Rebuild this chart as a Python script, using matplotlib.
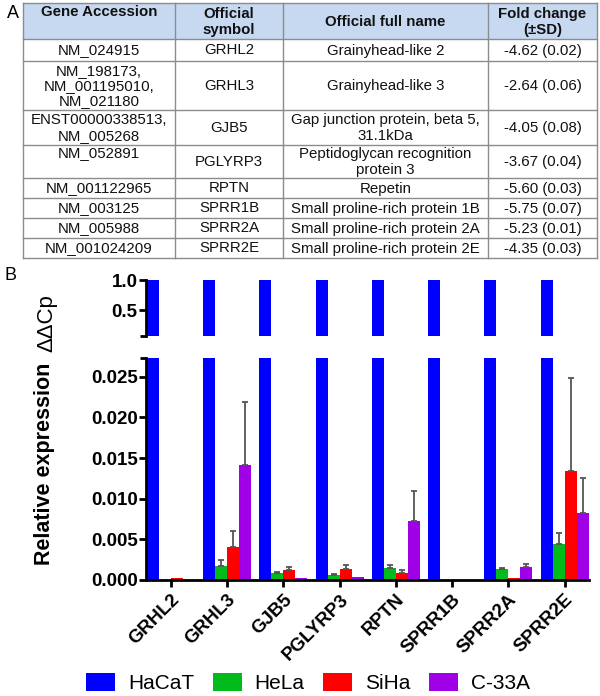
import matplotlib
matplotlib.use("Agg")
import matplotlib.pyplot as plt
import matplotlib.patches as mpatches
import numpy as np

plt.rcParams["font.family"] = ["Liberation Sans", "DejaVu Sans"]

# ---- Panel A: table contents ----
table_header = ["Gene Accession", "Official\nsymbol", "Official full name", "Fold change\n(±SD)"]
accessions = [
    "NM_024915",
    "NM_198173,\nNM_001195010,\nNM_021180",
    "ENST00000338513,\nNM_005268",
    "NM_052891",
    "NM_001122965",
    "NM_003125",
    "NM_005988",
    "NM_001024209",
]
symbols = ["GRHL2", "GRHL3", "GJB5", "PGLYRP3", "RPTN", "SPRR1B", "SPRR2A", "SPRR2E"]
full_names = [
    "Grainyhead-like 2",
    "Grainyhead-like 3",
    "Gap junction protein, beta 5,\n31.1kDa",
    "Peptidoglycan recognition\nprotein 3",
    "Repetin",
    "Small proline-rich protein 1B",
    "Small proline-rich protein 2A",
    "Small proline-rich protein 2E",
]
fold_changes = ["-4.62 (0.02)", "-2.64 (0.06)", "-4.05 (0.08)", "-3.67 (0.04)",
                "-5.60 (0.03)", "-5.75 (0.07)", "-5.23 (0.01)", "-4.35 (0.03)"]

# ---- Panel B: relative expression (mean and upper SD) ----
genes = symbols
cell_lines = ["HaCaT", "HeLa", "SiHa", "C-33A"]
hacat = [1.0, 1.0, 1.0, 1.0, 1.0, 1.0, 1.0, 1.0]
hacat_sd = [0, 0, 0, 0, 0, 0, 0, 0]
hela = [0.00005, 0.0017, 0.0009, 0.0006, 0.0015, 0.0, 0.0013, 0.0044]
hela_sd = [0, 0.0008, 0.0001, 0.0001, 0.0003, 0, 0.0002, 0.0014]
siha = [0.0002, 0.0041, 0.0012, 0.0014, 0.0009, 0.0, 0.0003, 0.0134]
siha_sd = [0, 0.0019, 0.0004, 0.0004, 0.0003, 0, 0, 0.0114]
c33a = [0.0, 0.0142, 0.0003, 0.0004, 0.0073, 0.0, 0.0016, 0.0083]
c33a_sd = [0, 0.0077, 0, 0, 0.0036, 0, 0.0004, 0.0043]

colors = ["#0000ff", "#00bb1a", "#ff0000", "#a000e6"]

W, H = 600, 696
fig = plt.figure(figsize=(W / 100, H / 100), dpi=100)

# ---- table drawn in pixel coordinates ----
tab = fig.add_axes([0, 0, 1, 1], zorder=-1)
tab.set_xlim(0, W)
tab.set_ylim(H, 0)
tab.axis("off")

col_x = [23, 175, 283, 488, 597]
row_y = [3, 39, 61, 110, 145, 178, 198, 218, 238, 258]
line_c = "#8c8c8c"

tab.add_patch(mpatches.Rectangle((col_x[0], row_y[0]), col_x[-1] - col_x[0], row_y[1] - row_y[0],
                                 facecolor="#c6d9f0", edgecolor="none"))
for yy in row_y:
    tab.plot([col_x[0], col_x[-1]], [yy, yy], color=line_c, lw=1)
for xx in col_x:
    tab.plot([xx, xx], [row_y[0], row_y[-1]], color=line_c, lw=1)

cx = [(col_x[i] + col_x[i + 1]) / 2 for i in range(4)]
fs_tab = 10.8
for i, txt in enumerate(table_header):
    if i == 0:
        tab.text(cx[i], row_y[0] + 2, txt, ha="center", va="top", fontsize=fs_tab,
                 fontweight="bold", color="#111111", linespacing=1.1)
    else:
        tab.text(cx[i], (row_y[0] + row_y[1]) / 2 + 1, txt, ha="center", va="center",
                 fontsize=fs_tab, fontweight="bold", color="#111111", linespacing=1.1)

for r in range(len(symbols)):
    y0, y1 = row_y[r + 1], row_y[r + 2]
    yc = (y0 + y1) / 2 + 0.5
    cells = [accessions[r], symbols[r], full_names[r], fold_changes[r]]
    for i, txt in enumerate(cells):
        if r == 3 and i == 0:
            tab.text(cx[i], y0 + 1, txt, ha="center", va="top", fontsize=fs_tab,
                     color="#111111", linespacing=1.1)
        else:
            tab.text(cx[i], yc, txt, ha="center", va="center", fontsize=fs_tab,
                     color="#111111", linespacing=1.1)

fig.text(7 / W, 1 - 13 / H, "A", fontsize=13, va="center", ha="left")
fig.text(5 / W, 1 - 275 / H, "B", fontsize=13, va="center", ha="left")

# ---- broken-axis bar chart ----
ax_left = 146 / W
ax_w = (589 - 146) / W
ax_top = fig.add_axes([ax_left, 1 - 336 / H, ax_w, 56 / H])
ax_bot = fig.add_axes([ax_left, 1 - 580 / H, ax_w, 222 / H])

x = np.arange(len(genes))
bw = 0.2135
series = [(hacat, hacat_sd), (hela, hela_sd), (siha, siha_sd), (c33a, c33a_sd)]
for ax in (ax_top, ax_bot):
    for k, (vals, sds) in enumerate(series):
        pos = x + (k - 1.5) * bw
        ax.bar(pos, vals, width=bw, color=colors[k], edgecolor="none")
        if ax is ax_bot:
            sd = np.array(sds)
            m = sd > 0
            ax.errorbar(pos[m], np.array(vals)[m], yerr=[np.zeros(m.sum()), sd[m]],
                        fmt="none", ecolor="#555555", elinewidth=1.3, capsize=2, capthick=1.3)
    ax.set_xlim(-0.445, 7.435)
    for s in ("top", "right"):
        ax.spines[s].set_visible(False)
    ax.spines["left"].set_linewidth(2)
    ax.spines["bottom"].set_linewidth(2)
    ax.tick_params(axis="y", which="major", length=5, width=2, labelsize=13.5, pad=1)
    ax.tick_params(axis="y", which="minor", length=4, width=2)

ax_top.set_ylim(0.067, 1.0)
ax_top.set_yticks([0.5, 1.0])
ax_top.set_yticklabels(["0.5", "1.0"], fontweight="bold")
ax_top.set_yticks([0.067], minor=True)
ax_top.spines["bottom"].set_visible(False)
ax_top.set_xticks([])

ax_bot.set_ylim(0, 0.0273)
yt = [0.0, 0.005, 0.010, 0.015, 0.020, 0.025]
ax_bot.set_yticks(yt)
ax_bot.set_yticklabels([f"{v:.3f}" for v in yt], fontweight="bold")
ax_bot.set_yticks([0.0273], minor=True)
ax_bot.set_xticks(x)
ax_bot.set_xticklabels(genes, rotation=45, ha="right", va="top", rotation_mode="anchor",
                       fontsize=13.5, fontweight="bold")
ax_bot.tick_params(axis="x", length=5, width=2, pad=3)

fig.text(45 / W, 1 - 565 / H, "Relative expression", rotation=90, ha="center", va="bottom",
         fontsize=15.5, fontweight="bold")
fig.text(47 / W, 1 - 352 / H, "ΔΔCp", rotation=90, ha="center", va="bottom", fontsize=16)

handles = [mpatches.Patch(facecolor=c, edgecolor="none", label=l) for c, l in zip(colors, cell_lines)]
fig.legend(handles=handles, loc="center", bbox_to_anchor=(308 / W, 1 - 683 / H), ncol=4,
           frameon=False, fontsize=15, handlelength=1.4, handleheight=1.0,
           handletextpad=0.6, columnspacing=0.9, borderpad=0, borderaxespad=0)

fig.savefig("out.png", dpi=100)
